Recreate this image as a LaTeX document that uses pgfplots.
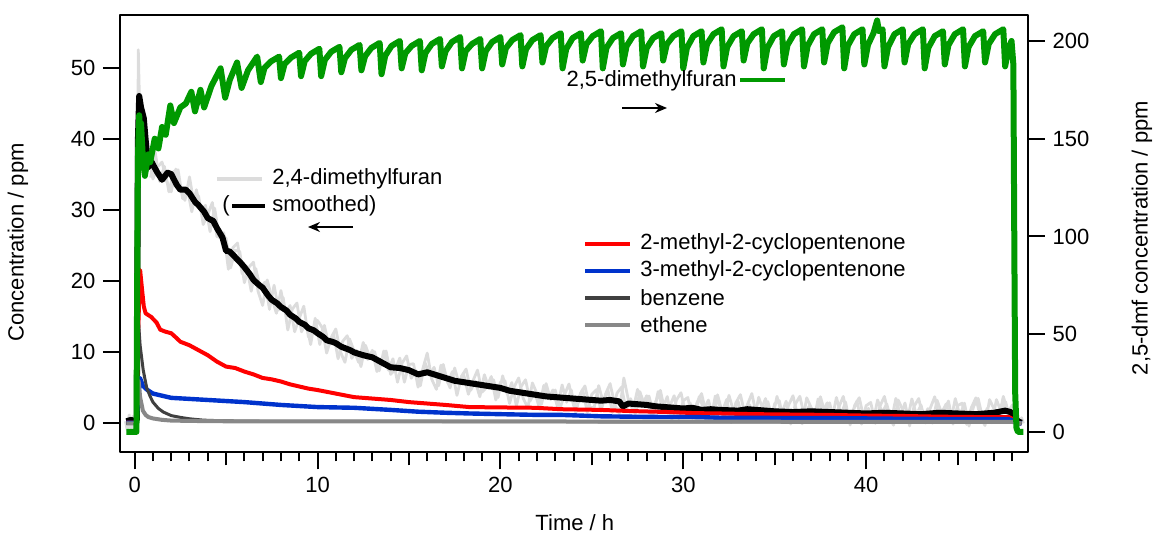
\documentclass[border=0pt]{standalone}
\usepackage{fontspec}
\setmainfont{Liberation Sans}
\usepackage{pgfplots}
\pgfplotsset{compat=1.18}
\usetikzlibrary{arrows.meta}
\definecolor{rawgray}{RGB}{220,220,220}
\definecolor{myred}{RGB}{255,0,0}
\definecolor{myblue}{RGB}{0,51,204}
\definecolor{mygreen}{RGB}{0,153,0}
\definecolor{benz}{RGB}{64,64,64}
\definecolor{eth}{RGB}{136,136,136}
\begin{document}
\fontsize{11}{13}\selectfont
\begin{tikzpicture}
\begin{axis}[
  scale only axis, width=453.9pt, height=218.7pt,
  xmin=-0.8, xmax=48.84, ymin=-4.08, ymax=57.5,
  axis line style={line width=1pt},
  every tick/.style={line width=1pt, black},
  tick align=outside, xtick pos=bottom, ytick pos=left,
  major tick length=8.5pt, minor tick length=4.5pt,
  xtick={0,10,20,30,40}, minor xtick={1,2,...,48},
  extra x ticks={5,15,25,35,45}, extra x tick labels={},
  extra x tick style={major tick length=6.5pt},
  ytick={0,10,20,30,40,50},
  xlabel={Time / h}, ylabel={Concentration / ppm},
  xlabel style={at={(axis description cs:0.501,-0.1617)}, anchor=center},
  ylabel style={at={(axis description cs:-0.1124,0.48)}, anchor=center},
  /pgf/number format/assume math mode=true,
  line join=round,
]
% 2,4-dimethylfuran raw (samples at quarter hours)
\addplot[rawgray, line width=1.4pt] coordinates {
(-0.5,0.3)(-0.4,-1.0)(-0.3,1.2)(-0.2,-0.8)(-0.1,1.0)(0.0,-1.2)(0.1,0.5)(0.15,25)(0.2,52.6)(0.25,47)(0.3,43)(0.4,45)(0.5,41)(0.6,38)(0.7,35.5)
(0.75,37.6)(1.0,34.4)(1.25,36.1)(1.5,36.8)(1.75,34.1)(2.0,32.6)(2.25,35.8)(2.5,33.2)(2.75,31.4)(3.0,34.7)(3.25,30.9)(3.5,32.0)(3.75,28.0)(4.0,29.4)(4.25,31.1)(4.5,26.3)(4.75,26.2)(5.0,26.1)(5.25,21.9)(5.5,24.4)
(5.75,24.2)(6.0,19.8)(6.25,22.0)(6.5,22.7)(6.75,18.6)(7.0,16.6)(7.25,20.2)(7.5,17.7)(7.75,15.5)(8.0,18.7)(8.25,15.5)(8.5,16.6)(8.75,12.9)(9.0,14.8)(9.25,16.5)(9.5,12.2)(9.75,12.9)(10.0,14.5)
(10.25,13.5)(10.5,9.9)(10.75,12.1)(11.0,13.3)(11.25,10.1)(11.5,8.6)(11.75,11.9)(12.0,10.2)(12.25,8.6)(12.5,11.4)(12.75,9.0)(13.0,10.3)(13.25,7.3)(13.5,9.0)(13.75,10.2)(14.0,6.9)(14.25,7.6)(14.5,9.2)(14.75,5.8)(15.0,8.3)
(15.25,8.4)(15.5,5.1)(15.75,7.6)(16.0,9.9)(16.25,6.2)(16.5,4.8)(16.75,8.2)(17.0,6.6)(17.25,5.0)(17.5,7.8)(17.75,5.5)(18.0,6.8)(18.25,4.1)(18.5,6.0)(18.75,7.5)(19.0,4.4)(19.25,5.1)(19.5,6.6)(19.75,3.3)(20.0,5.8)
(20.25,6.0)(20.5,2.8)(20.75,5.1)(21.0,6.4)(21.25,3.5)(21.5,2.2)(21.75,5.7)(22.0,4.2)(22.25,2.7)(22.5,5.6)(22.75,3.35)(23.0,4.7)(23.25,2.05)(23.5,4.0)(23.75,5.55)(24.0,2.5)(24.25,3.25)(24.5,4.8)(24.75,1.55)(25.0,4.1)
(25.25,4.75)(25.5,1.7)(25.75,4.15)(26.0,5.6)(26.25,2.7)(26.5,1.4)(26.75,6.4)(27.0,3.3)(27.25,1.85)(27.5,4.8)(27.75,2.55)(28.0,3.9)(28.25,1.2)(28.5,3.1)(28.75,4.65)(29.0,1.6)(29.25,2.35)(29.5,3.9)(29.75,0.65)(30.0,3.2)
(30.25,3.65)(30.5,0.7)(30.75,2.95)(31.0,4.2)(31.25,1.45)(31.5,0.3)(31.75,3.85)(32.0,2.4)(32.25,1.0)(32.5,3.95)(32.75,1.7)(33.0,3.1)(33.25,0.55)(33.5,2.6)(33.75,4.2)(34.0,1.2)(34.25,1.95)(34.5,3.5)(34.75,0.25)(35.0,2.8)
(35.25,3.2)(35.5,0.15)(35.75,2.5)(36.0,3.9)(36.25,1.1)(36.5,-0.05)(36.75,3.6)(37.0,2.2)(37.25,0.75)(37.5,3.75)(37.75,1.5)(38.0,2.9)(38.25,0.25)(38.5,2.25)(38.75,3.8)(39.0,0.8)(39.25,1.55)(39.5,3.15)(39.75,-0.1)(40.0,2.5)
(40.25,2.95)(40.5,0.0)(40.75,2.4)(41.0,3.8)(41.25,0.95)(41.5,-0.25)(41.75,3.3)(42.0,1.9)(42.25,0.45)(42.5,3.45)(42.75,1.2)(43.0,2.6)(43.25,0.05)(43.5,2.1)(43.75,3.75)(44.0,0.8)(44.25,1.55)(44.5,3.15)(44.75,-0.1)(45.0,2.5)
(45.25,2.85)(45.5,-0.15)(45.75,2.2)(46.0,3.6)(46.25,0.85)(46.5,-0.3)(46.75,3.35)(47.0,2.0)(47.25,0.7)(47.5,3.8)(47.75,1.6)(48.0,2.6)(48.25,-0.8)(48.5,0.8)(48.6,0.0)
};
% 2,4-dimethylfuran raw (intermediate samples)
\addplot[rawgray, line width=1.4pt] coordinates {
(0.875,34.6)(1.125,38.2)(1.375,34.05)(1.625,36.2)(1.875,32.6)(2.125,35.45)(2.375,35.7)(2.625,31.65)(2.875,33.15)(3.125,29.8)(3.375,32.9)(3.625,30.0)(3.875,30.7)
(4.125,27.0)(4.375,30.3)(4.625,26.2)(4.875,26.85)(5.125,21.7)(5.375,24.75)(5.625,25.4)(5.875,21.1)(6.125,22.1)(6.375,18.6)(6.625,21.8)(6.875,19.0)(7.125,19.9)
(7.375,16.05)(7.625,19.45)(7.875,15.95)(8.125,17.7)(8.375,13.15)(8.625,16.1)(8.875,16.95)(9.125,12.9)(9.375,14.2)(9.625,11.1)(9.875,14.8)
(10.125,11.1)(10.375,13.8)(10.625,11.0)(10.875,12.6)(11.125,9.1)(11.375,11.55)(11.625,12.35)(11.875,9.15)(12.125,10.3)(12.375,8.0)(12.625,11.0)(12.875,9.1)(13.125,10.1)
(13.375,7.4)(13.625,10.2)(13.875,7.5)(14.125,9.1)(14.375,5.8)(14.625,8.5)(14.875,9.5)(15.125,6.35)(15.375,7.45)(15.625,5.3)(15.875,8.6)(16.125,6.8)(16.375,7.9)
(16.625,5.3)(16.875,8.3)(17.125,5.7)(17.375,7.3)(17.625,3.95)(17.875,6.65)(18.125,7.65)(18.375,4.65)(18.625,5.95)(18.875,3.75)(19.125,6.85)(19.375,4.95)(19.625,6.15)
(19.875,3.65)(20.125,6.7)(20.375,4.1)(20.625,5.75)(20.875,2.45)(21.125,5.15)(21.375,6.15)(21.625,3.15)(21.875,4.45)(22.125,2.25)(22.375,5.35)(22.625,3.48)(22.875,4.72)
(23.125,2.28)(23.375,5.42)(23.625,2.98)(23.875,4.72)(24.125,1.48)(24.375,4.22)(24.625,5.28)(24.875,2.32)
(25.125,2.18)(25.375,5.32)(25.625,2.92)(25.875,4.78)(26.125,1.55)(26.375,4.25)(26.625,5.1)(26.875,1.95)(27.125,3.48)(27.375,1.32)(27.625,4.48)(27.875,2.62)(28.125,3.85)
(28.375,1.35)(28.625,4.48)(28.875,2.02)(29.125,3.78)(29.375,0.52)(29.625,3.28)(29.875,4.32)(30.125,1.42)(30.375,2.88)(30.625,0.72)(30.875,3.78)(31.125,1.92)(31.375,3.28)
(31.625,0.88)(31.875,4.02)(32.125,1.6)(32.375,3.38)(32.625,0.12)(32.875,2.9)(33.125,4.05)(33.375,1.22)(33.625,2.62)(33.875,0.5)(34.125,3.68)(34.375,1.82)(34.625,3.08)
(34.875,0.62)(35.125,3.8)(35.375,1.38)(35.625,3.12)(35.875,-0.1)(36.125,2.7)(36.375,3.82)(36.625,0.98)(36.875,2.4)(37.125,0.28)(37.375,3.45)(37.625,1.62)(37.875,2.9)
(38.125,0.48)(38.375,3.65)(38.625,1.22)(38.875,3.0)(39.125,-0.22)(39.375,2.55)(39.625,3.62)(39.875,0.7)(40.125,2.12)(40.375,0.08)(40.625,3.3)(40.875,1.5)(41.125,2.75)
(41.375,0.35)(41.625,3.52)(41.875,1.1)(42.125,2.88)(42.375,-0.35)(42.625,2.42)(42.875,3.5)(43.125,0.62)(43.375,2.08)(43.625,0.02)(43.875,3.28)(44.125,1.48)(44.375,2.75)
(44.625,0.32)(44.875,3.5)(45.125,1.08)(45.375,2.85)(45.625,-0.38)(45.875,2.4)(46.125,3.52)(46.375,0.68)(46.625,2.12)(46.875,0.08)(47.125,3.35)(47.375,1.65)(47.625,3.05)(47.875,0.5)
};
% smoothed
\addplot[black, line width=3pt] coordinates {
(-0.45,0.3)(-0.2,0.5)(0.0,0.3)(0.12,0.5)(0.18,40)(0.25,46.1)(0.35,44.5)(0.5,43)(0.6,40)(0.75,36.1)(0.93,36.8)(1.2,35.5)(1.5,34.3)(1.8,35.3)(2.0,35.1)(2.3,33.6)(2.5,32.9)(2.8,32.9)(3.0,32.4)(3.3,31.2)(3.5,30.7)(3.8,29.8)(4.0,28.9)(4.3,28.5)(4.5,27.5)(4.8,26.2)(5.0,24.3)(5.2,24.2)(5.5,23.4)(5.8,22.6)(6.0,22.0)(6.3,21.0)(6.5,20.2)(6.8,19.5)(7.0,19.1)(7.3,18.0)(7.5,17.4)(7.8,16.9)(8.0,16.4)(8.3,15.9)(8.5,15.3)(8.8,14.8)(9.0,14.3)(9.3,13.9)(9.5,13.4)(9.8,13.1)(10,12.7)(10.3,12.2)(10.5,11.7)(10.8,11.5)(11,11.3)(11.3,10.8)(11.5,10.6)(11.8,10.3)(12,10.0)(12.5,9.6)(13,9.3)(13.5,8.6)(14,7.9)(14.5,7.8)(15,7.5)(15.5,6.9)(16,7.2)(16.5,6.8)(17,6.4)(17.5,6.0)(18,5.8)(18.5,5.6)(19,5.4)(19.5,5.2)(20,5.0)(20.5,4.6)(21,4.4)(21.5,4.2)(22,4.0)(22.5,3.8)(23,3.7)(23.5,3.6)(24,3.5)(24.5,3.4)(25,3.3)(25.5,3.2)(26,3.3)(26.5,3.1)(26.7,2.4)(27,2.8)(27.5,2.7)(28,2.6)(28.5,2.4)(29,2.3)(29.5,2.2)(30,2.1)(30.5,2.2)(31,1.9)(31.5,2.0)(32,1.9)(33,1.8)(33.5,2.0)(34,1.9)(35,1.7)(36,1.6)(37,1.7)(38,1.6)(39,1.5)(40,1.4)(41,1.5)(42,1.4)(43,1.3)(44,1.5)(45,1.4)(46,1.3)(47,1.5)(47.6,1.8)(47.9,1.6)(48.1,1.0)(48.3,0.3)(48.5,0.1)
};
% 2-methyl-2-cyclopentenone
\addplot[myred, line width=2pt] coordinates {
(-0.45,0.1)(0.1,0.1)(0.18,12)(0.3,21.6)(0.4,19)(0.5,16.5)(0.6,15.5)(0.9,15.0)(1.2,14.2)(1.4,13.2)(1.7,12.9)(2.0,12.7)(2.3,12.0)(2.5,11.5)(3.0,11.0)(3.5,10.3)(4.0,9.6)(4.5,8.7)(5.0,8.0)(5.5,7.8)(6.0,7.3)(6.5,6.9)(7.0,6.4)(7.5,6.2)(8.0,5.9)(8.5,5.5)(9.0,5.2)(9.5,4.9)(10,4.7)(11,4.2)(12,3.7)(13,3.5)(14,3.3)(15,3.0)(16,2.8)(17,2.6)(18.3,2.3)(20,2.25)(21.9,2.2)(23.3,2.0)(25.5,1.9)(27,1.75)(29.2,1.6)(30.6,1.45)(32,1.4)(34,1.3)(36,1.25)(37.9,1.2)(40,1.1)(42,1.05)(44,0.95)(46,0.9)(47.8,0.9)(48.1,0.5)(48.3,0.1)(48.5,0.0)
};
% 3-methyl-2-cyclopentenone
\addplot[myblue, line width=2.2pt] coordinates {
(-0.45,0.1)(0.1,0.1)(0.18,3)(0.29,6.4)(0.45,5.3)(0.7,4.7)(1.0,4.2)(1.5,3.9)(2,3.6)(3,3.45)(4,3.3)(5,3.15)(6,3.0)(7,2.8)(8,2.6)(9,2.45)(10,2.3)(11,2.25)(12,2.2)(13,2.05)(14,1.9)(15.5,1.65)(17,1.5)(18.3,1.4)(20,1.3)(22,1.2)(23.3,1.2)(25.5,1.0)(27,0.95)(29,0.9)(30.6,0.9)(32,0.8)(34,0.78)(36,0.75)(37.9,0.75)(40,0.7)(42,0.65)(45.2,0.6)(47.8,0.6)(48.1,0.3)(48.3,0.05)(48.5,0.0)
};
% benzene
\addplot[benz, line width=1.5pt] coordinates {
(-0.45,0)(0.1,0)(0.15,6)(0.22,14)(0.3,11)(0.47,7.5)(0.66,5.0)(0.85,3.8)(1.0,3.0)(1.3,2.1)(1.57,1.6)(2.0,1.1)(2.5,0.85)(3.0,0.65)(3.75,0.46)(5,0.35)(7,0.3)(10,0.3)(15,0.28)(20,0.25)(30,0.22)(40,0.2)(48,0.2)(48.5,0.0)
};
% ethene
\addplot[eth, line width=2pt] coordinates {
(-0.45,0)(0.1,0)(0.15,3)(0.22,6)(0.3,3.7)(0.45,1.8)(0.6,1.2)(0.75,0.9)(1.0,0.7)(1.5,0.5)(2,0.4)(3,0.35)(5,0.3)(10,0.3)(20,0.28)(30,0.25)(40,0.22)(48,0.2)(48.5,0)
};
\end{axis}
\begin{axis}[
  scale only axis, width=453.9pt, height=218.7pt,
  xmin=-0.8, xmax=48.84, ymin=-10.5, ymax=213.3,
  axis x line=none, axis y line*=right,
  axis line style={line width=1pt},
  every tick/.style={line width=1pt, black},
  tick align=outside, major tick length=8.5pt,
  ytick={0,50,100,150,200},
  ylabel={2,5-dmf concentration / ppm},
  ylabel style={at={(axis description cs:1.1256,0.49)}, anchor=center},
  /pgf/number format/assume math mode=true,
  line join=round,
]
\addplot[mygreen, line width=3pt] coordinates {
(-0.45,0)(0.1,0)(0.13,60)(0.18,140)(0.25,162)(0.3,152)(0.35,158)(0.45,140)(0.56,131)(0.75,142)(0.85,138)(1.1,150)(1.3,145)(1.5,156)(1.7,152)(1.95,167)(2.15,158)(2.5,166)(2.8,168)(3.1,174)(3.3,164)(3.6,175)(3.8,166)(4.2,177)(4.7,186)(4.95,171)(5.2,180)(5.6,189)(5.85,176)(6.2,185)(6.7,192)
(6.9,179)(7.1,186.2)(7.45,189.5)(7.9,192)
(8.0,181)(8.2,188.2)(8.55,191.5)(9.0,194)
(9.1,182)(9.3,189.7)(9.65,193.5)(10.1,196)
(10.2,182)(10.4,190.3)(10.75,194.5)(11.2,197)
(11.3,184)(11.5,191.2)(11.85,195.5)(12.3,198)
(12.4,185)(12.6,192.2)(12.95,196.5)(13.4,199)
(13.5,183)(13.7,192.4)(14.05,197.5)(14.5,200)
(14.6,186)(14.8,193.7)(15.15,197.5)(15.6,200)
(15.7,185)(15.9,193.8)(16.25,198.5)(16.7,201)
(16.8,187)(17.0,194.7)(17.35,199.5)(17.8,202)
(17.9,186)(18.1,194.8)(18.45,198.5)(18.9,201)
(19.0,186)(19.2,194.8)(19.55,199.5)(20.0,202)
(20.1,188)(20.3,196.3)(20.65,200.5)(21.1,203)
(21.2,187)(21.4,195.8)(21.75,200.5)(22.2,203)
(22.3,189)(22.5,197.3)(22.85,201.5)(23.3,204)
(23.4,186)(23.6,195.9)(23.95,201.5)(24.4,204)
(24.5,190)(24.7,198.3)(25.05,202.5)(25.5,205)
(25.6,186)(25.8,196.5)(26.15,201.5)(26.6,204)
(26.7,188)(26.9,197.4)(27.25,202.5)(27.7,205)
(27.8,187)(28.0,196.4)(28.35,201.5)(28.8,204)
(28.9,190)(29.1,198.3)(29.45,202.5)(29.9,205)
(30.0,186)(30.2,196.5)(30.55,202.5)(31.0,205)
(31.1,189)(31.3,198.4)(31.65,203.5)(32.1,206)
(32.2,187)(32.4,196.9)(32.75,202.5)(33.2,205)
(33.3,190)(33.5,198.8)(33.85,203.5)(34.3,206)
(34.4,186)(34.6,196.5)(34.95,202.5)(35.4,205)
(35.5,188)(35.7,197.9)(36.05,203.5)(36.5,206)
(36.6,187)(36.8,197.5)(37.15,203.5)(37.6,206)
(37.7,189)(37.9,198.9)(38.25,204.5)(38.7,207)
(38.8,186)(39.0,197.6)(39.35,203.5)(39.8,206)
(39.9,188)(40.1,198)(40.4,204)(40.6,210.5)(40.7,205)(40.9,206)
(41.0,187)(41.2,196.9)(41.55,203.5)(42.0,206)
(42.1,189)(42.3,198.4)(42.65,203.5)(43.1,206)
(43.2,186)(43.4,196.5)(43.75,202.5)(44.2,205)
(44.3,188)(44.5,197.9)(44.85,203.5)(45.3,206)
(45.4,187)(45.6,196.9)(45.95,202.5)(46.4,205)
(46.5,189)(46.7,198.4)(47.05,203.5)(47.5,206)
(47.6,187)(47.8,196.9)(47.95,200)(48.05,188)(48.1,100)(48.15,20)(48.22,2)(48.3,0)(48.6,0)
};
\end{axis}
% annotations (coordinates in pt relative to the frame's lower left corner)
\draw[rawgray, line width=2pt] (48.5pt,136.7pt) -- (71pt,136.7pt);
\node[anchor=west, inner sep=0pt] at (76pt,136.7pt) {2,4-dimethylfuran};
\node[anchor=east, inner sep=0pt] at (55pt,123.2pt) {(};
\draw[black, line width=2pt] (56pt,123.2pt) -- (72.5pt,123.2pt);
\node[anchor=west, inner sep=0pt] at (76pt,123.2pt) {smoothed)};
\draw[black, line width=0.8pt, -{Stealth[length=6pt,width=5pt]}] (116.5pt,112.7pt) -- (94pt,112.7pt);
\node[anchor=east, inner sep=0pt] at (308.5pt,185.7pt) {2,5-dimethylfuran};
\draw[mygreen, line width=2pt] (310pt,186pt) -- (332.5pt,186pt);
\draw[black, line width=0.8pt, -{Stealth[length=6pt,width=5pt]}] (251pt,172.2pt) -- (273.5pt,172.2pt);
\draw[myred, line width=2pt] (232.5pt,104.2pt) -- (255pt,104.2pt);
\node[anchor=west, inner sep=0pt] at (260pt,104.2pt) {2-methyl-2-cyclopentenone};
\draw[myblue, line width=2pt] (232.5pt,90.7pt) -- (255pt,90.7pt);
\node[anchor=west, inner sep=0pt] at (260pt,90.7pt) {3-methyl-2-cyclopentenone};
\draw[benz, line width=2pt] (232.5pt,77.2pt) -- (255pt,77.2pt);
\node[anchor=west, inner sep=0pt] at (260pt,77.2pt) {benzene};
\draw[eth, line width=2pt] (232.5pt,63.7pt) -- (255pt,63.7pt);
\node[anchor=west, inner sep=0pt] at (260pt,63.7pt) {ethene};
\pgfresetboundingbox
\path[use as bounding box] (-60pt,-43pt) rectangle (518pt,226.2pt);
\end{tikzpicture}
\end{document}
